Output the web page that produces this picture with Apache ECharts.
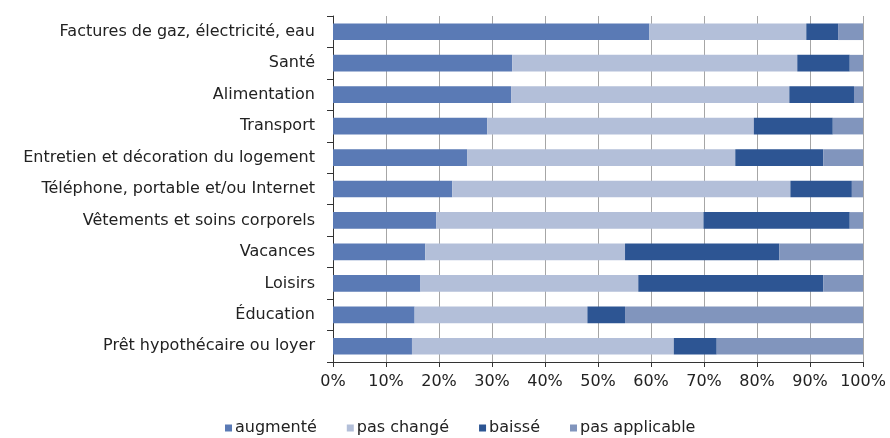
<!DOCTYPE html>
<html>
<head>
<meta charset="utf-8">
<script src="https://cdn.jsdelivr.net/npm/echarts@6/dist/echarts.min.js"></script>
<style>
  html, body { margin: 0; padding: 0; background: #fff; }
  #main { width: 890px; height: 438px; }
</style>
</head>
<body>
<div id="main"></div>
<script>
// categories, top to bottom
var categories = [
  'Factures de gaz, électricité, eau',
  'Santé',
  'Alimentation',
  'Transport',
  'Entretien et décoration du logement',
  'Téléphone, portable et/ou Internet',
  'Vêtements et soins corporels',
  'Vacances',
  'Loisirs',
  'Éducation',
  'Prêt hypothécaire ou loyer'
];
var seriesNames = ['augmenté', 'pas changé', 'baissé', 'pas applicable'];
var augmente = [59.7, 33.8, 33.6, 29.1, 25.3, 22.5, 19.5, 17.4, 16.5, 15.4, 14.9];
var pasChange = [29.6, 53.8, 52.5, 50.3, 50.6, 63.8, 50.4, 37.7, 41.1, 32.6, 49.4];
var baisse = [6.0, 9.9, 12.2, 14.9, 16.6, 11.6, 27.6, 29.1, 34.9, 7.1, 8.1];
var pasApplicable = [4.7, 2.5, 1.7, 5.7, 7.5, 2.1, 2.5, 15.8, 7.5, 44.9, 27.6];
var xTicks = [0, 10, 20, 30, 40, 50, 60, 70, 80, 90, 100];

var colors = ['#5a7ab5', '#b3bfd9', '#2d5593', '#8195bd'];
var font = 'DejaVu Sans';

var chart = echarts.init(document.getElementById('main'), null, { renderer: 'canvas' });

function makeSeries(name, data) {
  return {
    name: name,
    type: 'bar',
    stack: 'total',
    barWidth: '53%',
    data: data
  };
}

var option = {
  animation: false,
  color: colors,
  grid: {
    left: 333,
    right: 27,
    top: 16,
    bottom: 76,
    containLabel: false
  },
  legend: {
    left: 220,
    top: 415,
    icon: 'rect',
    itemWidth: 7,
    itemHeight: 7,
    itemGap: 30,
    textStyle: { fontFamily: font, fontSize: 16, color: '#222', padding: [0, 0, 0, -2] },
    data: seriesNames
  },
  xAxis: {
    type: 'value',
    min: xTicks[0],
    max: xTicks[xTicks.length - 1],
    interval: 10,
    axisLine: { show: true, lineStyle: { color: '#333', width: 1 } },
    axisTick: { show: true, length: 5, lineStyle: { color: '#333' } },
    axisLabel: {
      formatter: '{value}%',
      fontFamily: font,
      fontSize: 16,
      color: '#222',
      margin: 12
    },
    splitLine: { show: true, lineStyle: { color: '#a6a6a6', width: 1 } }
  },
  yAxis: {
    type: 'category',
    inverse: true,
    data: categories,
    axisLine: { show: true, lineStyle: { color: '#333', width: 1 } },
    axisTick: { show: true, length: 6, lineStyle: { color: '#333' } },
    axisLabel: {
      fontFamily: font,
      fontSize: 16,
      color: '#222',
      margin: 18
    }
  },
  series: [
    makeSeries(seriesNames[0], augmente),
    makeSeries(seriesNames[1], pasChange),
    makeSeries(seriesNames[2], baisse),
    makeSeries(seriesNames[3], pasApplicable)
  ]
};
chart.setOption(option);
</script>
</body>
</html>
